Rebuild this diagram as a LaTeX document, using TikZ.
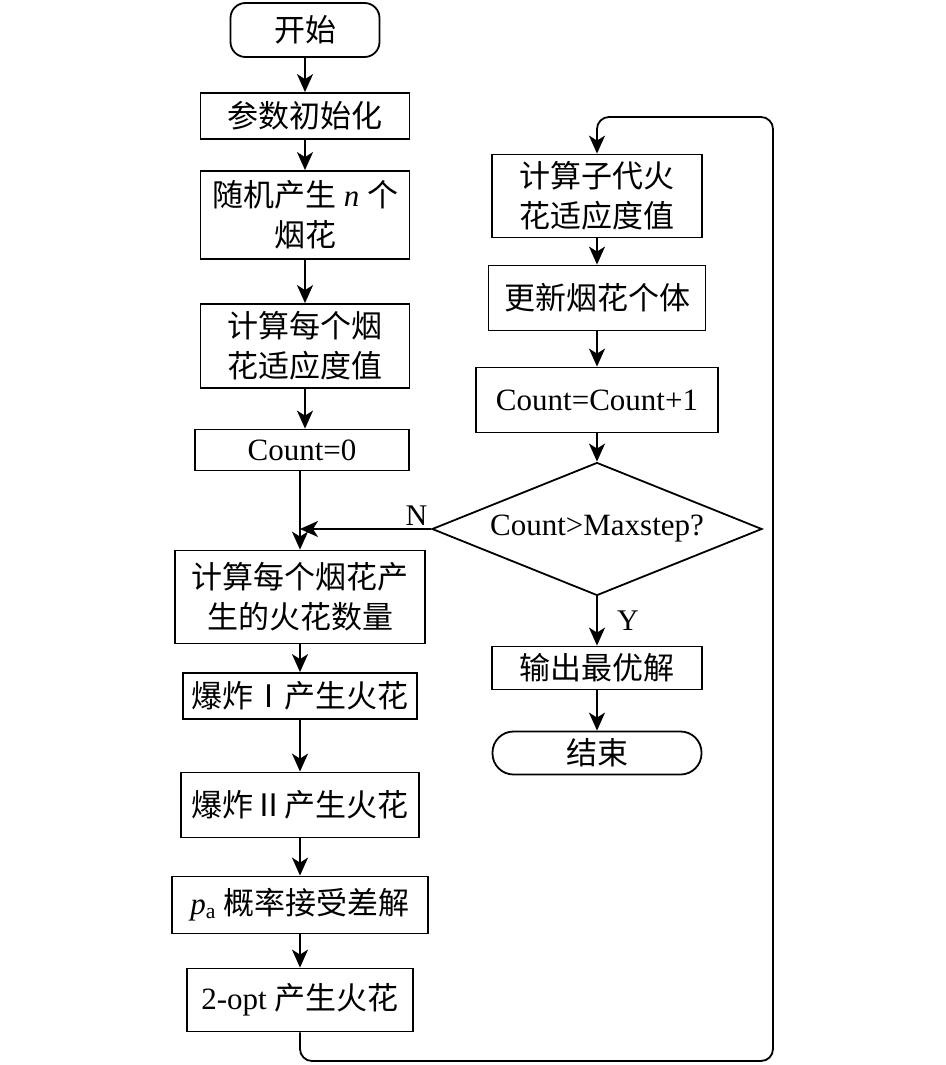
\documentclass[tikz,border=0pt]{standalone}
\usepackage{fontspec}
\setmainfont{Liberation Serif}
\newfontfamily\cjk{Noto Sans CJK SC}
\newcommand{\zh}[1]{{\cjk #1}}
\usetikzlibrary{arrows.meta,shapes.geometric}
\tikzset{
  box/.style={draw, line width=1.8pt, inner sep=0pt, align=center, font=\fontsize{31}{40}\selectfont},
  term/.style={box, rounded corners=15pt},
  decide/.style={box, diamond, aspect=2.5},
  flow/.style={line width=1.8pt, -{Stealth[length=18pt,width=16pt,inset=5pt]}},
  lbl/.style={font=\fontsize{30}{34}\selectfont},
}
\begin{document}
\begin{tikzpicture}[x=1pt, y=-1pt]
            \useasboundingbox (0,0) rectangle (945,1065);

            % left column
            \node[term, minimum width=149pt, minimum height=54pt] (start) at (305,30) {\zh{开始}};
            \node[box, minimum width=209pt, minimum height=46pt] (init) at (305,116) {\zh{参数初始化}};
            \node[box, minimum width=209pt, minimum height=88pt] (rand) at (305,215) {\zh{随机产生} \textit{n} \zh{个}\\\zh{烟花}};
            \node[box, minimum width=209pt, minimum height=84pt] (fit) at (305,346) {\zh{计算每个烟}\\\zh{花适应度值}};
            \node[box, minimum width=214pt, minimum height=41pt] (count0) at (302,450) {Count=0};
            \node[box, minimum width=250pt, minimum height=93pt] (spark) at (300,597) {\zh{计算每个烟花产}\\\zh{生的火花数量}};
            \node[box, minimum width=234pt, minimum height=46pt] (boom1) at (300,696) {\zh{爆炸Ⅰ产生火花}};
            \node[box, minimum width=238pt, minimum height=65pt] (boom2) at (300,805) {\zh{爆炸Ⅱ产生火花}};
            \node[box, minimum width=256pt, minimum height=57pt] (accept) at (300,905) {\textit{p}\textsubscript{a} \zh{概率接受差解}};
            \node[box, minimum width=226pt, minimum height=63pt] (opt) at (300,1000) {2-opt \zh{产生火花}};

            % right column
            \node[box, minimum width=210pt, minimum height=83pt] (sub) at (597,196) {\zh{计算子代火}\\\zh{花适应度值}};
            \node[box, minimum width=217pt, minimum height=65pt] (upd) at (597,298) {\zh{更新烟花个体}};
            \node[box, minimum width=242pt, minimum height=65pt] (inc) at (597,400) {Count=Count+1};
            \node[decide, minimum width=330pt, minimum height=133pt] (check) at (597,529) {Count>Maxstep?};
            \node[box, minimum width=210pt, minimum height=43pt] (best) at (597,668) {\zh{输出最优解}};
            \node[term, rounded corners=21pt, minimum width=209pt, minimum height=43pt] (stop) at (597,753) {\zh{结束}};

            \coordinate (loopbr) at (773,1061);
            \coordinate (looptr) at (773,117);

            \draw[flow] (start) -- (init);
            \draw[flow] (init) -- (rand);
            \draw[flow] (rand) -- (fit);
            \draw[flow] (fit.south) -- (fit.south |- count0.north);
            \draw[flow] (count0.south -| spark.north) -- (spark.north);
            \draw[flow] (spark) -- (boom1);
            \draw[flow] (boom1) -- (boom2);
            \draw[flow] (boom2) -- (accept);
            \draw[flow] (accept) -- (opt);
            \draw[flow, rounded corners=12pt] (opt.south) |- (loopbr) -- (looptr) -| (sub.north);

            \draw[flow] (sub) -- (upd);
            \draw[flow] (upd) -- (inc);
            \draw[flow] (inc) -- (check);
            \draw[flow] (check.west) -- (check.west -| spark.north)
                node[lbl, pos=0, above left, inner sep=3pt] {N};
            \draw[flow] (check.south) -- (best.north)
                node[lbl, midway, right, xshift=16pt] {Y};
            \draw[flow] (best) -- (stop);
        \end{tikzpicture}
\end{document}
